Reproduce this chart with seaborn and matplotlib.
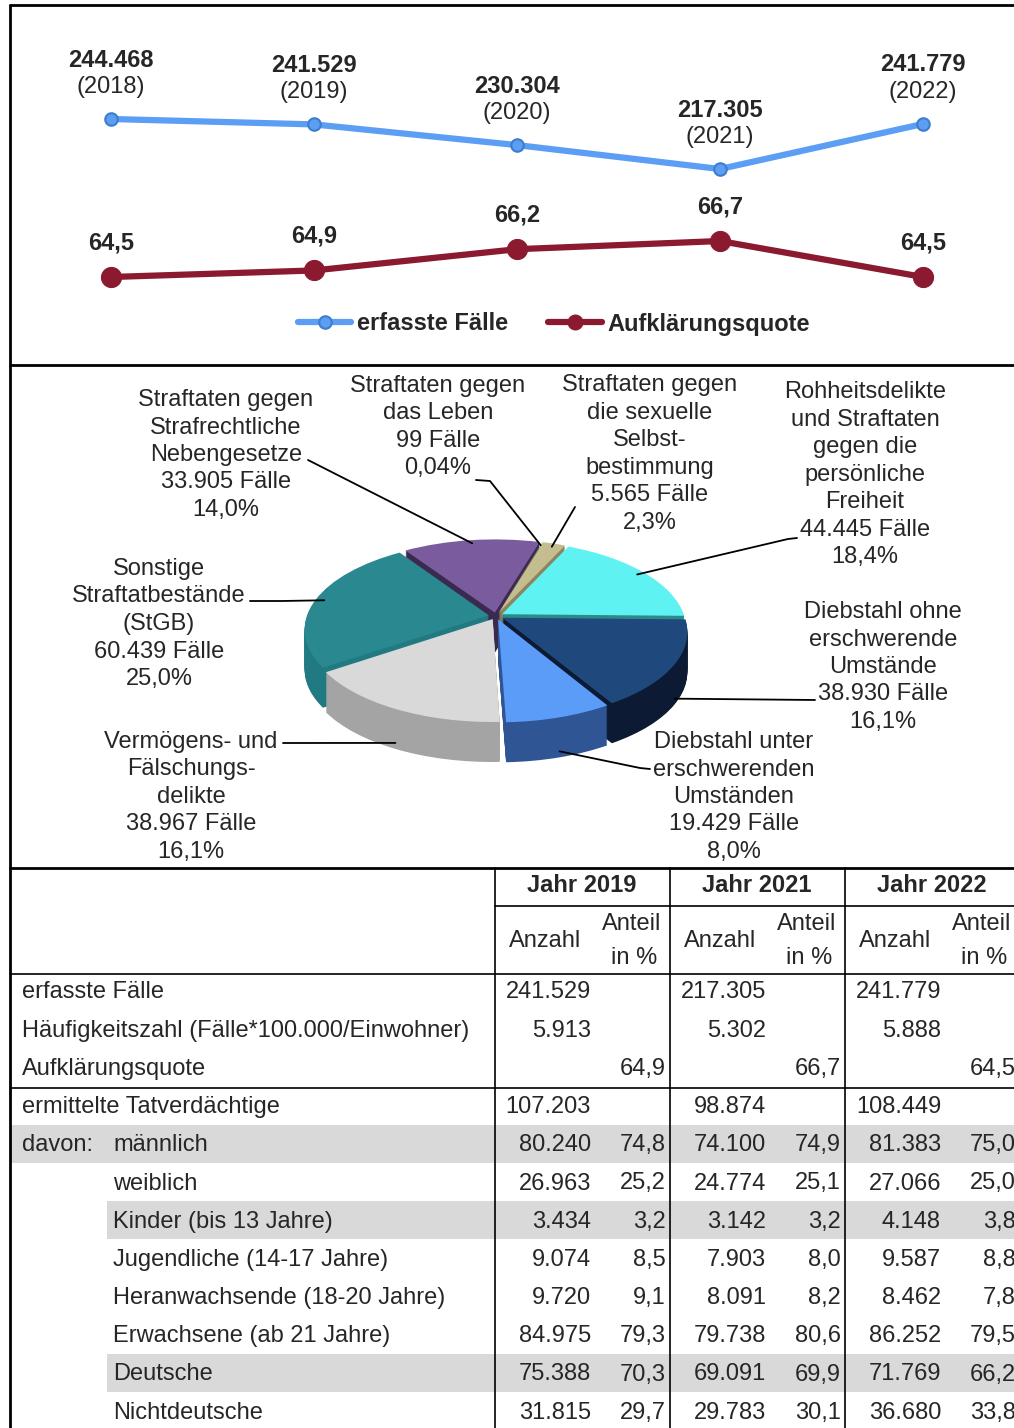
import numpy as np
import matplotlib
matplotlib.use("Agg")
import matplotlib.pyplot as plt
from matplotlib.lines import Line2D
from matplotlib.transforms import Transform, ScaledTranslation
import seaborn as sns

W, H = 1014, 1428

# Entwicklung 2018-2022
jahre = [2018, 2019, 2020, 2021, 2022]
faelle = [244468, 241529, 230304, 217305, 241779]
quote = [64.5, 64.9, 66.2, 66.7, 64.5]

# Deliktsstruktur 2022
delikte = [
    ["Straftaten gegen", "Strafrechtliche", "Nebengesetze"],
    ["Straftaten gegen", "das Leben"],
    ["Straftaten gegen", "die sexuelle", "Selbst-", "bestimmung"],
    ["Rohheitsdelikte", "und Straftaten", "gegen die", "persönliche", "Freiheit"],
    ["Diebstahl ohne", "erschwerende", "Umstände"],
    ["Diebstahl unter", "erschwerenden", "Umständen"],
    ["Vermögens- und", "Fälschungs-", "delikte"],
    ["Sonstige", "Straftatbestände", "(StGB)"],
]
delikt_faelle = [33905, 99, 5565, 44445, 38930, 19429, 38967, 60439]
farben_oben = ["#7a5c9e", "#9bbb59", "#c4bd8f", "#5ef3f2", "#1f487c", "#5b9cf8", "#d9d9d9", "#2a8890"]
farben_seite = ["#3b2a50", "#6b8a3a", "#8c8660", "#2e8a8a", "#0c1a33", "#2f5595", "#a4a4a4", "#217a81"]

# Tabelle
zeilen = ["erfasste Fälle", "Häufigkeitszahl (Fälle*100.000/Einwohner)", "Aufklärungsquote",
          "ermittelte Tatverdächtige", "männlich", "weiblich", "Kinder (bis 13 Jahre)",
          "Jugendliche (14-17 Jahre)", "Heranwachsende (18-20 Jahre)", "Erwachsene (ab 21 Jahre)",
          "Deutsche", "Nichtdeutsche"]
tab_jahre = ["Jahr 2019", "Jahr 2021", "Jahr 2022"]
anzahl_2019 = [241529, 5913, None, 107203, 80240, 26963, 3434, 9074, 9720, 84975, 75388, 31815]
anteil_2019 = [None, None, 64.9, None, 74.8, 25.2, 3.2, 8.5, 9.1, 79.3, 70.3, 29.7]
anzahl_2021 = [217305, 5302, None, 98874, 74100, 24774, 3142, 7903, 8091, 79738, 69091, 29783]
anteil_2021 = [None, None, 66.7, None, 74.9, 25.1, 3.2, 8.0, 8.2, 80.6, 69.9, 30.1]
anzahl_2022 = [241779, 5888, None, 108449, 81383, 27066, 4148, 9587, 8462, 86252, 71769, 36680]
anteil_2022 = [None, None, 64.5, None, 75.0, 25.0, 3.8, 8.8, 7.8, 79.5, 66.2, 33.8]


def zahl(n):
    return f"{n:,}".replace(",", ".")


def komma(v, d=1):
    return f"{v:.{d}f}".replace(".", ",")


class Perspektive(Transform):
    """einfache Fluchtpunkt-Verzerrung fuer die gekippte Torte"""
    input_dims = output_dims = 2
    is_separable = False

    def __init__(self, t):
        super().__init__()
        self.t = t

    def transform_non_affine(self, xy):
        xy = np.asarray(xy, dtype=float)
        d = 1 + self.t * xy[:, 1]
        return np.column_stack([xy[:, 0] / d, xy[:, 1] / d])


sns.set_style("white")
plt.rcParams["font.family"] = ["Liberation Sans", "DejaVu Sans"]
FS = 17

blau, blau_rand = "#5b9ef4", "#3d7dcc"
rot = "#8b1a30"

fig = plt.figure(figsize=(W / 100, H / 100), dpi=100)

# ---- Linienchart oben
ax1 = fig.add_axes([10 / W, 1 - 365 / H, 1004 / W, 360 / H])
x = list(range(len(jahre)))
sns.lineplot(x=x, y=faelle, ax=ax1, color=blau, linewidth=4.5, marker="o", markersize=9,
             markerfacecolor=blau, markeredgecolor=blau_rand, markeredgewidth=1.5)
ax1.set_xlim(-0.4975, 4.448)
ax1.set_ylim(110845, 306391)
ax2 = ax1.twinx()
sns.lineplot(x=x, y=quote, ax=ax2, color=rot, linewidth=4.5, marker="o", markersize=14.5,
             markerfacecolor=rot, markeredgecolor=rot)
ax2.set_ylim(59.12, 81.13)
for a in (ax1, ax2):
    a.axis("off")

for xi, j, v in zip(x, jahre, faelle):
    ax1.annotate(zahl(v), (xi, v), xytext=(0, 59), textcoords="offset pixels",
                 ha="center", va="center", fontsize=FS, fontweight="bold")
    ax1.annotate(f"({j})", (xi, v), xytext=(0, 32), textcoords="offset pixels",
                 ha="center", va="center", fontsize=FS)
for xi, v in zip(x, quote):
    ax2.annotate(komma(v), (xi, v), xytext=(0, 34), textcoords="offset pixels",
                 ha="center", va="center", fontsize=FS, fontweight="bold")

handles = [
    Line2D([], [], color=blau, lw=4.5, marker="o", ms=9, mfc=blau, mec=blau_rand, mew=1.5),
    Line2D([], [], color=rot, lw=4.5, marker="o", ms=10.5, mfc=rot, mec=rot),
]
fig.legend(handles, ["erfasste Fälle", "Aufklärungsquote"], loc="center",
           bbox_to_anchor=(554 / W, 1 - 324 / H), ncol=2, frameon=False,
           prop=dict(weight="bold", size=FS), handlelength=2.25, handletextpad=0.25,
           columnspacing=1.7)

# ---- 3D-Torte
cx, cy, rx, ry = 496, 616, 182, 85.7
tiefe_px = 40
persp = Perspektive(0.157)
axp = fig.add_axes([10 / W, 1 - 867 / H, 1004 / W, 501 / H])
explode = [0.04] * len(delikt_faelle)
start = 124
for k in range(tiefe_px, 0, -1):
    ws, _ = axp.pie(delikt_faelle, colors=farben_seite, startangle=start, counterclock=False,
                    explode=explode, wedgeprops=dict(linewidth=0))
    for w in ws:
        w.set_transform(persp + axp.transData + ScaledTranslation(0, -k / 100, fig.dpi_scale_trans))
wedges, _ = axp.pie(delikt_faelle, colors=farben_oben, startangle=start, counterclock=False,
                    explode=explode, wedgeprops=dict(linewidth=0))
for w in wedges:
    w.set_transform(persp + axp.transData)
axp.set_aspect("auto")
axp.set_xlim((10 - cx) / rx, (1014 - cx) / rx)
axp.set_ylim((cy - 867) / ry, (cy - 366) / ry)
axp.axis("off")

# Overlay in Pixelkoordinaten
ov = fig.add_axes([0, 0, 1, 1])
ov.set_xlim(0, W)
ov.set_ylim(H, 0)
ov.axis("off")

gesamt = sum(delikt_faelle)
label_pos = [(226, 455), (438, 427), (650, 454), (865, 475), (883, 667), (734, 797), (191, 797), (159, 624)]
linie_start = [(308, 460), (476, 480), (575, 507), (797, 538), (815, 700), (650, 769), (283, 743), (250, 601)]
knick = [None, (490, 481), None, (788, 539), None, (640, 768), None, (282, 601)]
zeilenabstand = 27.5

for w, name, n, (lx, ly), st, kn in zip(wedges, delikte, delikt_faelle, label_pos, linie_start, knick):
    p = n / gesamt * 100
    pct = komma(p, 1 if p >= 0.1 else 2) + "%"
    lines = name + [f"{zahl(n)} Fälle", pct]
    for i, t in enumerate(lines):
        ov.text(lx, ly + (i - (len(lines) - 1) / 2) * zeilenabstand, t, ha="center", va="center",
                fontsize=FS, zorder=5)
    mid = np.deg2rad((w.theta1 + w.theta2) / 2)
    c = np.array(w.center)
    richtung = np.array([np.cos(mid), np.sin(mid)])
    if richtung[1] > -0.2:
        disp = (persp + axp.transData).transform([c + 0.95 * richtung])[0]
    else:
        disp = (persp + axp.transData).transform([c + richtung])[0] - np.array([0, 0.85 * tiefe_px])
    ax_pt = ov.transData.inverted().transform(disp)
    xs = [st[0]] + ([kn[0]] if kn else []) + [ax_pt[0]]
    ys = [st[1]] + ([kn[1]] if kn else []) + [ax_pt[1]]
    ov.plot(xs, ys, color="black", lw=1.3, zorder=6)

# ---- Tabelle
grau = "#d9d9d9"
y0, dy = 992.5, 38.2
spalten_x = [495, 670, 845]
anzahlen = [anzahl_2019, anzahl_2021, anzahl_2022]
anteile = [anteil_2019, anteil_2021, anteil_2022]
einzug = [22, 22, 22, 22, 113, 113, 113, 113, 113, 113, 113, 113]
grau_zeilen = {4: 10, 6: 107, 10: 107}

for r, xs in grau_zeilen.items():
    yc = y0 - 1.5 + r * dy
    ov.fill_between([xs, W], yc - 19, yc + 19, color=grau, lw=0, zorder=1)

for r, (lab, ex) in enumerate(zip(zeilen, einzug)):
    yc = y0 + r * dy
    ov.text(ex, yc, lab, ha="left", va="center", fontsize=FS, zorder=5)
    for sx, anz, ant in zip(spalten_x, anzahlen, anteile):
        if anz[r] is not None:
            ov.text(sx + 96, yc, zahl(anz[r]), ha="right", va="center", fontsize=FS, zorder=5)
        if ant[r] is not None:
            ov.text(sx + 171, yc, komma(ant[r]), ha="right", va="center", fontsize=FS, zorder=5)
ov.text(22, y0 + 4 * dy, "davon:", ha="left", va="center", fontsize=FS, zorder=5)

for sx, tj in zip(spalten_x, tab_jahre):
    ov.text(sx + 87, 886, tj, ha="center", va="center", fontsize=FS, fontweight="bold", zorder=5)
    ov.text(sx + 50, 941, "Anzahl", ha="center", va="center", fontsize=FS, zorder=5)
    ov.text(sx + 137, 924, "Anteil", ha="center", va="center", fontsize=FS, zorder=5)
    ov.text(sx + 162, 958, "in %", ha="right", va="center", fontsize=FS, zorder=5)
    ov.plot([sx, sx], [868, H], color="black", lw=1.2, zorder=4)

ov.plot([495, W], [906, 906], color="black", lw=1.2, zorder=4)
for yl in (974, 1088):
    ov.plot([10, W], [yl, yl], color="black", lw=1.2, zorder=4)

# Rahmen
for yl in (5, 365, 868):
    ov.plot([10, W], [yl, yl], color="black", lw=2, zorder=7)
ov.plot([10, 10], [5, H], color="black", lw=2, zorder=7)

fig.savefig("out.png", dpi=100, facecolor="white")
